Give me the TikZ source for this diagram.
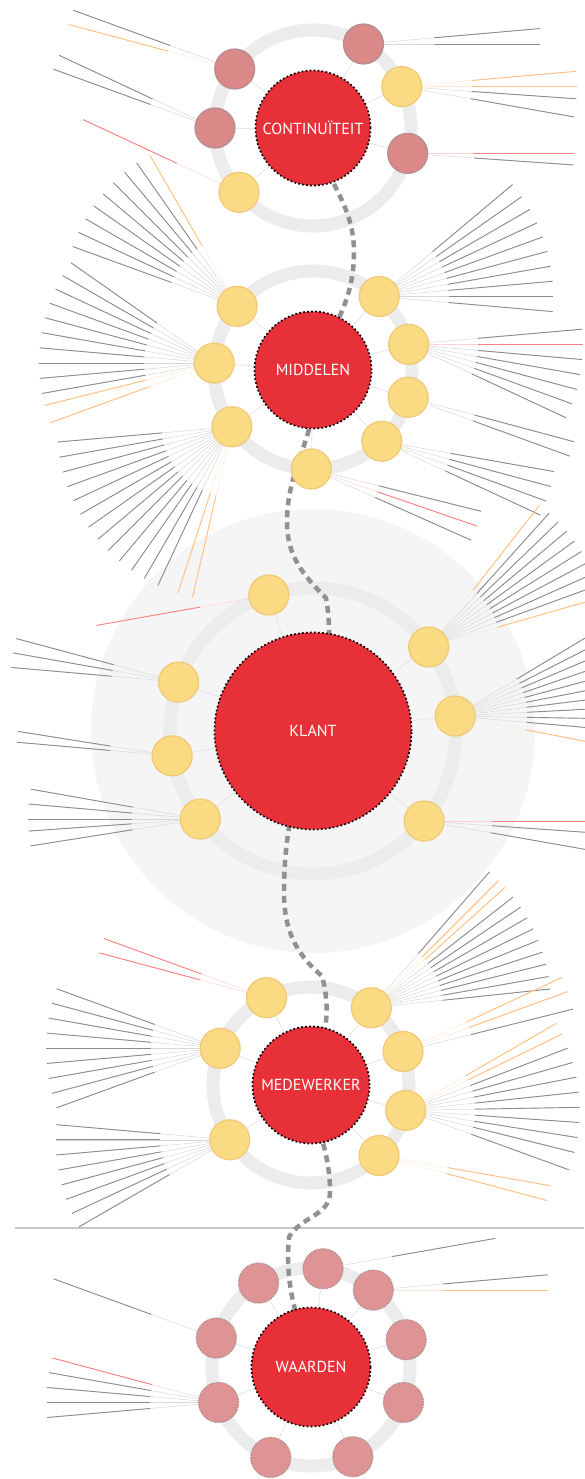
\documentclass[tikz,border=0pt]{standalone}
\usepackage{fontspec}
\setmainfont{PT Sans}
\usepackage{xcolor}
\usepackage{tikz}
\usetikzlibrary{calc}

\definecolor{hubred}{RGB}{232,48,56}
\definecolor{satyel}{RGB}{250,218,130}
\definecolor{satyeldk}{RGB}{240,200,118}
\definecolor{satred}{RGB}{218,136,136}
\definecolor{satreddk}{RGB}{178,142,142}
\definecolor{ringgray}{RGB}{236,236,236}
\definecolor{roadgray}{RGB}{145,145,145}
\colorlet{lg}{black!45}
\colorlet{lo}{orange!50}
\colorlet{lr}{red!50}

\pgfdeclarelayer{bg}
\pgfsetlayers{bg,main}

% fan of items round a satellite: node, length, angle/colour list
\newcommand{\fan}[3]{%
  \foreach \a/\c in {#3} {
    \draw[leader, draw=\c!35] (#1) -- +(\a:#2);
    \draw[words, draw=\c] (#1.center) ++(\a:#2*0.4) -- ++(\a:#2*0.6);
  }}

\begin{document}
\begin{tikzpicture}[x=1pt, y=1pt,
    hub/.style={circle, fill=hubred, draw=black, line width=1.7pt,
      dash pattern=on 1.7pt off 2.3pt, text=white, inner sep=0pt,
      font=\fontsize{16}{18}\selectfont},
    ysat/.style={circle, minimum size=40pt, inner sep=0pt, fill=satyel,
      draw=satyeldk, line width=1.2pt},
    rsat/.style={ysat, fill=satred, draw=satreddk},
    vsat/.style={rsat, fill=satred!90, dash pattern=on 1.5pt off 1pt},
    ring/.style={draw=ringgray, line width=13pt},
    spoke/.style={draw=black!10, line width=0.8pt},
    road/.style={draw=roadgray, line width=4.5pt, dash pattern=on 7pt off 5pt},
    leader/.style={line width=0.5pt},
    words/.style={line width=0.9pt}]

    \useasboundingbox (0,0) rectangle (584,-1479);

    % hubs
    \node[hub, minimum size=115pt] (cont)  at (313,-128)  {CONTINUÏTEIT};
    \node[hub, minimum size=117pt] (midd)  at (313,-370)  {MIDDELEN};
    \node[hub, minimum size=197pt] (klant) at (313,-731)  {KLANT};
    \node[hub, minimum size=117pt] (mede)  at (311,-1085) {MEDEWERKER};
    \node[hub, minimum size=119pt] (waar)  at (311,-1367) {WAARDEN};

    % satellites
    \foreach \a/\s [count=\i] in {143/rsat,59/rsat,25/ysat,180/rsat,-15/rsat,221/ysat}
        \node[\s] (c\i) at ($(cont)+(\a:98)$) {};
    \foreach \a [count=\i] in {140,176,215,269,314,344,15,48}
        \node[ysat] (m\i) at ($(midd)+(\a:99)$) {};
    \foreach \a [count=\i] in {108,160,190,218,36,6,-39}
        \node[ysat] (k\i) at ($(klant)+(\a:143)$) {};
    \foreach \a [count=\i] in {117,158,214,52,20,-15,-46}
        \node[ysat] (w\i) at ($(mede)+(\a:98)$) {};
    \foreach \a [count=\i] in {122,83,51,16,-21,-65,246,163,201}
        \node[vsat] (v\i) at ($(waar)+(\a:99)$) {};

    \coordinate (r1) at (354,-252);
    \coordinate (r2) at (287,-522);
    \coordinate (r3) at (326,-598);
    \coordinate (r4) at (284,-892);
    \coordinate (r5) at (322,-976);
    \coordinate (r6) at (330,-1192);
    \coordinate (r7) at (289,-1237);
    \coordinate (divl) at (15,-1228);
    \coordinate (divr) at (584,-1228);

    \begin{pgfonlayer}{bg}
        \fill[black!4] (klant.center) circle (222);
        \draw[black!22, line width=1.5pt] (divl) -- (divr);

        \foreach \h/\r in {cont/98, midd/99, klant/143, mede/98, waar/99}
            \draw[ring] (\h.center) circle (\r);

        \foreach \i in {1,...,6} \draw[spoke] (cont) -- (c\i);
        \foreach \i in {1,...,8} \draw[spoke] (midd) -- (m\i);
        \foreach \i in {1,...,7} \draw[spoke] (klant) -- (k\i);
        \foreach \i in {1,...,7} \draw[spoke] (mede) -- (w\i);
        \foreach \i in {1,...,9} \draw[spoke] (waar) -- (v\i);

        % continuiteit
        \fan{c1}{172}{160/lg,165/lo}
        \fan{c2}{177}{5/lg,0/lg}
        \fan{c3}{175}{5/lo,0/lo,-4/lg,-10/lg}
        \fan{c4}{172}{155/lg,160/lg}
        \fan{c5}{166}{0/lr,-4/lg}
        \fan{c6}{172}{155/lr}
        % middelen
        \fan{m1}{175}{120/lo,125/lg,130/lg,135/lg,140/lg,145/lg,150/lg,155/lg,160/lg}
        \fan{m2}{175}{145/lg,150/lg,155/lg,160/lg,165/lg,170/lg,175/lg,180/lg,185/lg,190/lg,194/lo,200/lo}
        \fan{m3}{175}{185/lg,190/lg,195/lg,200/lg,205/lg,210/lg,215/lg,220/lg,225/lg,230/lg,235/lg,240/lg,245/lg,252/lo,257/lo}
        \fan{m4}{175}{-14/lg,-19/lr,-24/lg}
        \fan{m5}{175}{-10/lg,-15/lg,-20/lg,-25/lg}
        \fan{m6}{172}{-15/lg,-20/lg}
        \fan{m7}{174}{5/lg,0/lr,-5/lg,-10/lg,-15/lg,-20/lg,-25/lg}
        \fan{m8}{174}{40/lg,35/lg,30/lg,25/lg,20/lg,15/lg,10/lg,5/lg,0/lg,-5/lg}
        % klant
        \fan{k1}{175}{190/lr}
        \fan{k2}{168}{165/lg,170/lg,175/lg}
        \fan{k3}{156}{171/lg,175/lg}
        \fan{k4}{172}{170/lg,175/lg,180/lg,184/lg,189/lg}
        \fan{k5}{180}{52/lo,48/lg,44/lg,40/lg,36/lg,32/lg,28/lg,24/lg,20/lg,16/lo}
        \fan{k6}{180}{31/lg,27/lg,23/lg,19/lg,15/lg,11/lg,7/lg,3/lg,-1/lg,-5/lg,-11/lo}
        \fan{k7}{170}{0/lr,-4/lg,-10/lg}
        % medewerker
        \fan{w1}{173}{160/lr,165/lr}
        \fan{w2}{174}{160/lg,165/lg,170/lg,175/lg,180/lg,185/lg,190/lg,195/lg,200/lg}
        \fan{w3}{174}{175/lg,180/lg,185/lg,190/lg,195/lg,200/lg,205/lg,210/lg}
        \fan{w4}{180}{49/lg,45/lo,42/lo,38/lg,34/lg,30/lg,26/lg,22/lg,18/lg,14/lg,10/lg,6/lg}
        \fan{w5}{175}{25/lo,20/lo,14/lg}
        \fan{w6}{174}{30/lo,26/lo,21/lg,16/lg,11/lg,6/lg,1/lg,-4/lg,-9/lg,-14/lg,-20/lg}
        \fan{w7}{174}{-10/lo,-15/lo}
        % waarden
        \fan{v2}{175}{10/lg}
        \fan{v3}{175}{5/lg,0/lo}
        \fan{v8}{173}{160/lg}
        \fan{v9}{172}{165/lr,170/lg,175/lg,180/lg,185/lg}

        % the road from hub to hub
        \draw[road] (cont.center) to[out=-80,in=90] (r1)
            to[out=-90,in=65] (midd.center);
        \draw[road] (midd.center) to[out=-80,in=90] (r2)
            to[out=-90,in=135] (r3) to[out=-80,in=80] (klant.center);
        \draw[road] (klant.center) to[out=-105,in=90] (r4)
            to[out=-90,in=140] (r5) to[out=-75,in=75] (mede.center);
        \draw[road] (mede.center) to[out=-85,in=90] (r6)
            to[out=-90,in=60] (r7) to[out=-95,in=105] (waar.center);
    \end{pgfonlayer}
\end{tikzpicture}
\end{document}
